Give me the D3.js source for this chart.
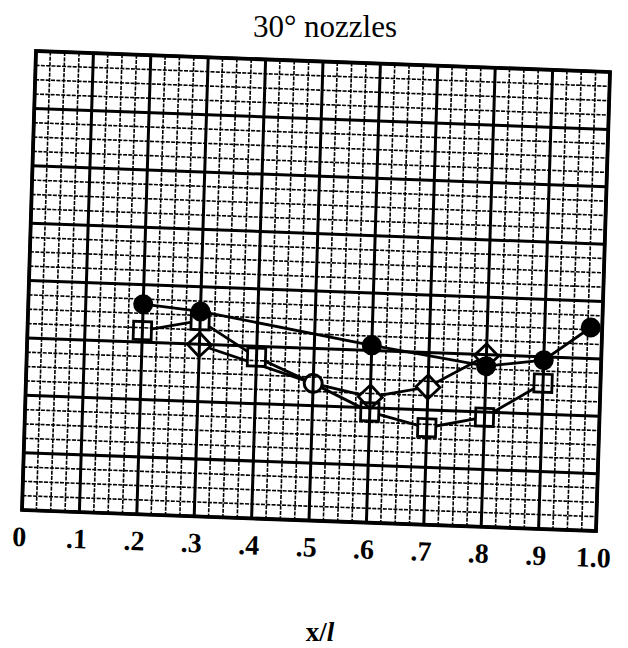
<!DOCTYPE html>
<html>
<head>
<meta charset="utf-8">
<script src="https://cdn.jsdelivr.net/npm/d3@7"></script>
<style>
  html, body { margin: 0; padding: 0; background: #fff; }
  svg { display: block; }
</style>
</head>
<body>
<script>
// Axis ticks along x/l (the vertical axis carries no labels)
const xTicks = [0, 0.1, 0.2, 0.3, 0.4, 0.5, 0.6, 0.7, 0.8, 0.9, 1.0];
const xTickLabels = ["0", ".1", ".2", ".3", ".4", ".5", ".6", ".7", ".8", ".9", "1.0"];

// Measured profiles (vertical value in major grid divisions)
const solidX = [0.2, 0.3, 0.6, 0.8, 0.9, 0.98];
const solidY = [3.66, 3.57, 3.09, 2.80, 2.94, 3.54];

const squareX = [0.2, 0.3, 0.4, 0.5, 0.6, 0.7, 0.8, 0.9];
const squareY = [3.20, 3.41, 2.81, 2.39, 1.93, 1.69, 1.91, 2.54];

const diamondX = [0.3, 0.5, 0.6, 0.7, 0.8];
const diamondY = [2.99, 2.39, 2.19, 2.40, 2.98];

// Point where the square and diamond profiles coincide
const sharedX = [0.5];
const sharedY = [2.39];

const W = 574, H = 459;
const majorRows = 8, minorPerMajor = 4;
const serif = "'Liberation Serif', 'Times New Roman', serif";

const svg = d3.select("body").append("svg")
  .attr("width", 628).attr("height", 648);

svg.append("text")
  .attr("x", 325).attr("y", 37)
  .attr("text-anchor", "middle")
  .attr("font-family", serif)
  .attr("font-size", 31)
  .attr("fill", "#000")
  .text("30° nozzles");

// The sheet sits slightly skewed on the page
const g = svg.append("g")
  .attr("transform", "matrix(1, 0.0366, -0.0305, 1, 36, 51)");

const x = d3.scaleLinear().domain([0, 1]).range([0, W]);
const y = d3.scaleLinear().domain([0, majorRows]).range([H, 0]);

// Minor grid
const minorX = d3.range(0, 10 * minorPerMajor + 1).filter(i => i % minorPerMajor).map(i => i / (10 * minorPerMajor));
const minorY = d3.range(0, majorRows * minorPerMajor + 1).filter(i => i % minorPerMajor).map(i => i / minorPerMajor);

const grid = g.append("g").attr("stroke", "#000").attr("fill", "none");
grid.selectAll("line.mx").data(minorX).join("line")
  .attr("class", "mx")
  .attr("x1", d => x(d)).attr("x2", d => x(d))
  .attr("y1", 0).attr("y2", H)
  .attr("stroke-width", 1.6).attr("stroke-dasharray", "4,1.3");
grid.selectAll("line.my").data(minorY).join("line")
  .attr("class", "my")
  .attr("y1", d => y(d)).attr("y2", d => y(d))
  .attr("x1", 0).attr("x2", W)
  .attr("stroke-width", 1.6).attr("stroke-dasharray", "4,1.3");

// Major grid
grid.selectAll("line.Mx").data(xTicks).join("line")
  .attr("class", "Mx")
  .attr("x1", d => x(d)).attr("x2", d => x(d))
  .attr("y1", 0).attr("y2", H)
  .attr("stroke-width", 3);
grid.selectAll("line.My").data(d3.range(0, majorRows + 1)).join("line")
  .attr("class", "My")
  .attr("y1", d => y(d)).attr("y2", d => y(d))
  .attr("x1", 0).attr("x2", W)
  .attr("stroke-width", 3);
grid.append("rect")
  .attr("x", 0).attr("y", 0).attr("width", W).attr("height", H)
  .attr("stroke-width", 3.8);

// Tick labels
g.selectAll("text.tick").data(xTicks).join("text")
  .attr("class", "tick")
  .attr("x", d => x(d) - 2).attr("y", H + 36)
  .attr("text-anchor", "middle")
  .attr("font-family", serif)
  .attr("font-weight", "bold")
  .attr("font-size", 28)
  .attr("fill", "#000")
  .text((d, i) => xTickLabels[i]);

// Profiles
const line = d3.line().x(d => x(d[0])).y(d => y(d[1]));
const zip = (xs, ys) => xs.map((v, i) => [v, ys[i]]);

const sq = 18, dm = 12, r = 10, rs = 9;
const sqPts = zip(squareX, squareY).filter(d => !sharedX.includes(d[0]));
const dmPts = zip(diamondX, diamondY).filter(d => !sharedX.includes(d[0]));
const shPts = zip(sharedX, sharedY);
const dotPts = zip(solidX, solidY);
const diamondPath = d => {
  const cx = x(d[0]), cy = y(d[1]);
  return `M${cx},${cy - dm}L${cx + dm},${cy}L${cx},${cy + dm}L${cx - dm},${cy}Z`;
};

// Hollow symbols: connecting lines stop at the symbol outline
const mask = svg.append("defs").append("mask")
  .attr("id", "symbolHoles")
  .attr("maskUnits", "userSpaceOnUse")
  .attr("x", -100).attr("y", -100).attr("width", 900).attr("height", 800);
mask.append("rect").attr("x", -100).attr("y", -100).attr("width", 900).attr("height", 800).attr("fill", "#fff");
mask.selectAll("rect.h").data(sqPts).join("rect")
  .attr("class", "h")
  .attr("x", d => x(d[0]) - sq / 2).attr("y", d => y(d[1]) - sq / 2)
  .attr("width", sq).attr("height", sq).attr("fill", "#000");
mask.selectAll("path.h").data(dmPts).join("path")
  .attr("class", "h").attr("d", diamondPath).attr("fill", "#000");
mask.selectAll("circle.h").data(shPts).join("circle")
  .attr("class", "h")
  .attr("cx", d => x(d[0])).attr("cy", d => y(d[1])).attr("r", rs).attr("fill", "#000");

const lines = g.append("g").attr("mask", "url(#symbolHoles)")
  .attr("fill", "none").attr("stroke", "#000").attr("stroke-width", 2.8);
[sqPts.concat(shPts).sort((a, b) => a[0] - b[0]),
 dmPts.concat(shPts).sort((a, b) => a[0] - b[0]),
 dotPts].forEach(pts => lines.append("path").attr("d", line(pts)));

const marks = g.append("g").attr("stroke", "#000").attr("fill", "none");
marks.selectAll("rect.sq").data(sqPts).join("rect")
  .attr("class", "sq")
  .attr("x", d => x(d[0]) - sq / 2).attr("y", d => y(d[1]) - sq / 2)
  .attr("width", sq).attr("height", sq)
  .attr("stroke-width", 2.8);
marks.selectAll("path.dm").data(dmPts).join("path")
  .attr("class", "dm").attr("d", diamondPath)
  .attr("stroke-width", 2.8);
marks.selectAll("circle.sh").data(shPts).join("circle")
  .attr("class", "sh")
  .attr("cx", d => x(d[0])).attr("cy", d => y(d[1])).attr("r", rs)
  .attr("stroke-width", 3);
marks.selectAll("circle.dot").data(dotPts).join("circle")
  .attr("class", "dot")
  .attr("cx", d => x(d[0])).attr("cy", d => y(d[1])).attr("r", r)
  .attr("fill", "#000").attr("stroke-width", 0);

// Axis title
const xt = svg.append("text")
  .attr("x", 320).attr("y", 641)
  .attr("text-anchor", "middle")
  .attr("font-family", serif)
  .attr("font-weight", "bold")
  .attr("font-size", 27)
  .attr("fill", "#000");
xt.append("tspan").text("x/");
xt.append("tspan").attr("font-style", "italic").text("l");
</script>
</body>
</html>
